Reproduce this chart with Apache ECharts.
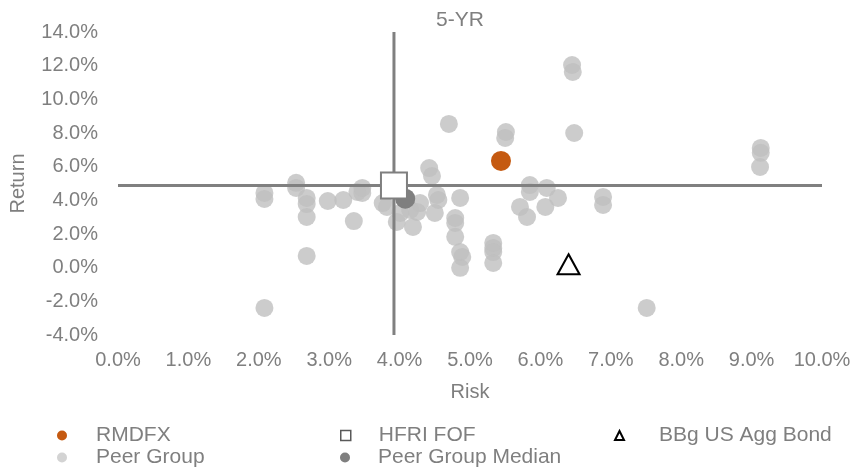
<!DOCTYPE html>
<html>
<head>
<meta charset="utf-8">
<script src="https://cdn.jsdelivr.net/npm/echarts@6/dist/echarts.min.js"></script>
<style>html,body{margin:0;padding:0;background:#fff;}#c{width:856px;height:470px;}</style>
</head>
<body>
<div id="c"></div>
<script>
const title = '5-YR';
const xRange = [0, 10];
const yRange = [-4, 14];
const peerRisk = [2.08,2.08,2.08,2.53,2.53,2.68,2.68,2.68,2.68,2.98,3.20,3.35,3.40,3.47,3.47,3.76,3.82,3.96,4.01,4.15,4.19,4.25,4.29,4.42,4.46,4.53,4.55,4.50,4.70,4.86,4.79,4.79,4.79,4.86,4.89,4.86,5.33,5.33,5.33,5.33,5.51,5.50,5.85,5.85,6.09,6.25,6.07,5.71,5.81,6.89,6.89,6.45,6.46,6.48,9.13,9.13,9.12,7.51];
const peerReturn = [4.44,4.08,-2.39,5.04,4.74,4.14,3.78,3.01,0.70,3.96,4.02,2.77,4.50,4.74,4.44,3.84,3.61,2.72,3.25,3.43,2.42,3.31,3.84,5.92,5.45,4.32,4.02,3.25,8.54,4.14,2.95,2.66,1.83,0.93,0.64,-0.01,1.47,1.17,0.93,0.28,8.06,7.71,4.91,4.50,4.74,4.14,3.61,3.61,3.01,4.20,3.73,12.04,11.63,8.00,7.11,6.82,5.98,-2.39];
const rmdfx = [5.44, 6.34];
const hfri = [3.92, 4.88];
const bond = [6.40, 0.20];
const median = [4.08, 4.10];

const gray = '#7f7f7f';
const font = 'Liberation Sans, Arial, sans-serif';
const FS = 20;
const LFS = 21;
const chart = echarts.init(document.getElementById('c'));
const peerData = peerRisk.map((x,i)=>[x, peerReturn[i]]);

function leg(name, left, top, icon, style, w, h, pad){
  return {show:true, left:left, top:top, orient:'horizontal', itemWidth:w, itemHeight:h, itemGap:0, padding:0,
    data:[{name:name, icon:icon, itemStyle:style}],
    textStyle:{color:gray, fontSize:LFS, fontFamily:font, padding:[0,0,0,pad]}, selectedMode:false};
}

chart.setOption({
  animation:false,
  title:{text:title, left:431, top:5, textStyle:{color:gray, fontSize:21, fontWeight:'normal', fontFamily:font}},
  grid:{left:118, right:34, top:32, bottom:135},
  xAxis:{type:'value', min:xRange[0], max:xRange[1], interval:1, name:'Risk', nameLocation:'middle', nameGap:47,
    nameTextStyle:{color:gray, fontSize:FS, fontFamily:font},
    axisLine:{show:false}, axisTick:{show:false}, splitLine:{show:false},
    axisLabel:{color:gray, fontSize:FS, fontFamily:font, margin:15, formatter:v=>v.toFixed(1)+'%'}},
  yAxis:{type:'value', min:yRange[0], max:yRange[1], interval:2, name:'Return', nameLocation:'middle', nameGap:90, nameRotate:90,
    nameTextStyle:{color:gray, fontSize:FS, fontFamily:font},
    axisLine:{show:false}, axisTick:{show:false}, splitLine:{show:false},
    axisLabel:{color:gray, fontSize:FS, fontFamily:font, margin:20, formatter:v=>v.toFixed(1)+'%'}},
  legend:[
    leg('RMDFX', 57, 425, 'circle', {color:'#c55a11'}, 10, 10, 24),
    leg('Peer Group', 57, 447, 'circle', {color:'#c8c8c8'}, 10, 10, 24),
    leg('HFRI FOF', 340, 425, 'rect', {color:'#fff', borderColor:'#595959', borderWidth:1.5}, 10, 10, 23),
    leg('Peer Group Median', 340, 447, 'circle', {color:gray}, 10, 10, 23),
    leg('BBg US Agg Bond', 614, 425, 'triangle', {color:'#fff', borderColor:'#000', borderWidth:2}, 9, 9, 30)
  ],
  series:[
    {name:'Peer Group', type:'scatter', z:1, symbol:'circle', symbolSize:18,
      itemStyle:{color:'#bfbfbf', opacity:0.8}, data:peerData},
    {name:'vline', type:'line', z:2, silent:true, symbol:'none', clip:false,
      lineStyle:{color:'#808080', width:3}, data:[[hfri[0], yRange[0]], [hfri[0], yRange[1]]]},
    {name:'hline', type:'line', z:2, silent:true, symbol:'none', clip:false,
      lineStyle:{color:'#808080', width:3}, data:[[xRange[0], hfri[1]], [xRange[1], hfri[1]]]},
    {name:'Peer Group Median', type:'scatter', z:3, symbolSize:20, itemStyle:{color:gray, opacity:1}, data:[median]},
    {name:'RMDFX', type:'scatter', z:3, symbolSize:20, itemStyle:{color:'#c55a11', opacity:1}, data:[rmdfx]},
    {name:'HFRI FOF', type:'scatter', z:4, symbol:'rect', symbolSize:26,
      itemStyle:{color:'#fff', borderColor:gray, borderWidth:2, opacity:1}, data:[hfri]},
    {name:'BBg US Agg Bond', type:'scatter', z:4, symbol:'triangle', symbolSize:[22,20],
      itemStyle:{color:'#fff', borderColor:'#000', borderWidth:2, opacity:1}, data:[bond]}
  ]
});
</script>
</body>
</html>
